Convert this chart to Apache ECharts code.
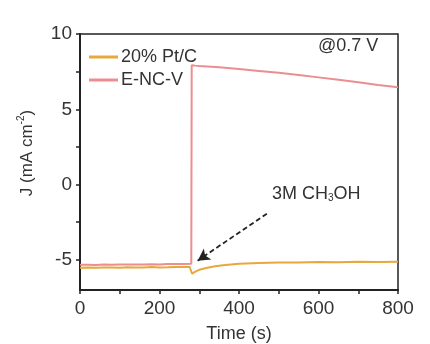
<!DOCTYPE html>
<html><head><meta charset="utf-8">
<script src="https://cdn.jsdelivr.net/npm/echarts@6/dist/echarts.min.js"></script>
<style>html,body{margin:0;padding:0;background:#fff}#c{width:430px;height:344px}</style>
</head><body><div id="c"></div>
<script>
// Data
var ptcTime = [0,20,40,60,80,100,120,140,160,180,200,220,240,260,276,282,290,300,320,340,360,380,400,450,500,550,600,650,700,750,800];
var ptcJ    = [-5.52,-5.50,-5.53,-5.51,-5.50,-5.52,-5.49,-5.51,-5.50,-5.48,-5.50,-5.49,-5.47,-5.48,-5.47,-5.92,-5.78,-5.66,-5.52,-5.42,-5.35,-5.30,-5.26,-5.21,-5.17,-5.17,-5.14,-5.15,-5.13,-5.14,-5.13];
var encvTime = [0,20,40,60,80,100,120,140,160,180,200,220,240,260,280,281,290,300,350,400,450,500,550,600,650,700,750,800];
var encvJ    = [-5.33,-5.32,-5.34,-5.31,-5.32,-5.30,-5.31,-5.30,-5.31,-5.29,-5.30,-5.28,-5.28,-5.27,-5.25,7.92,7.90,7.88,7.80,7.68,7.55,7.42,7.27,7.12,6.96,6.80,6.62,6.46];
var seriesNames = ['20% Pt/C','E-NC-V'];
var xTickLabels = [0,200,400,600,800];
var xTicks = [0,100,200,300,400,500,600,700,800];
var yTickLabels = [-5,0,5,10];
var yTicks = [-5,-2.5,0,2.5,5,7.5,10];
var arrowFrom = [470,-1.93];
var arrowTo = [296,-5.05];

function pairs(xs, ys){ return xs.map(function(x,i){return [x, ys[i]];}); }

var chart = echarts.init(document.getElementById('c'), null, {renderer:'canvas'});
var font = 'Liberation Sans, Arial, sans-serif';
chart.setOption({
  animation:false,
  textStyle:{fontFamily:font},
  grid:{left:80,right:32,top:34,bottom:54,show:true,borderColor:'#222',borderWidth:1.5,backgroundColor:'transparent',outerBoundsMode:'none',containLabel:false},
  legend:{
    orient:'vertical', left:84, top:43, icon:'rect', itemWidth:29, itemHeight:3, itemGap:5,
    textStyle:{fontSize:18,color:'#333',fontFamily:font,padding:[0,0,0,-2]},
    data:seriesNames
  },
  xAxis:{
    type:'value', min:0, max:800,
    name:'Time (s)', nameLocation:'middle', nameGap:35,
    nameTextStyle:{fontSize:18,color:'#333',fontFamily:font},
    axisLine:{onZero:false,lineStyle:{color:'#222',width:2}},
    axisTick:{show:true,length:4,lineStyle:{color:'#222',width:1.5},customValues:xTicks},
    axisLabel:{fontSize:19,color:'#333',margin:9,customValues:xTickLabels},
    splitLine:{show:false}
  },
  yAxis:{
    type:'value', min:-7, max:10,
    name:'{a|J (mA cm}{s|-2}{a|)}', nameLocation:'middle', nameGap:44, nameRotate:90,
    nameTextStyle:{color:'#333',fontFamily:font,padding:[0,0,0,18],rich:{
      a:{fontSize:17,color:'#333',fontFamily:font,lineHeight:20,verticalAlign:'bottom'},
      s:{fontSize:10,color:'#333',fontFamily:font,lineHeight:10,verticalAlign:'top'}
    }},
    axisLine:{onZero:false,lineStyle:{color:'#222',width:2}},
    axisTick:{show:true,length:4,lineStyle:{color:'#222',width:1.5},customValues:yTicks},
    axisLabel:{fontSize:19,color:'#333',margin:8,customValues:yTickLabels},
    splitLine:{show:false}
  },
  series:[
    {name:seriesNames[0], type:'line', data:pairs(ptcTime,ptcJ), showSymbol:false, symbol:'none',
     itemStyle:{color:'#E7A83C'}, lineStyle:{color:'#E7A83C',width:2}, z:3},
    {name:seriesNames[1], type:'line', data:pairs(encvTime,encvJ), showSymbol:false, symbol:'none',
     itemStyle:{color:'#EC8D90'}, lineStyle:{color:'#EC8D90',width:2}, z:2,
     markLine:{silent:true, symbol:['none','arrow'], symbolSize:[10,12],
       label:{show:false},
       lineStyle:{color:'#222',type:[5,3],width:1.8},
       data:[[{coord:arrowFrom},{coord:arrowTo}]]}
    }
  ],
  graphic:[
    {type:'text', left:318, top:37, style:{text:'@0.7 V', fontSize:18, fill:'#333', fontFamily:font}},
    {type:'text', left:272, top:185, style:{
      text:'{a|3M CH}{s|3}{a|OH}', fill:'#333', fontFamily:font,
      rich:{a:{fontSize:18,fill:'#333',fontFamily:font,lineHeight:20,verticalAlign:'bottom'},
            s:{fontSize:10,fill:'#333',fontFamily:font,lineHeight:14,verticalAlign:'bottom'}}
    }}
  ]
});
</script></body></html>
